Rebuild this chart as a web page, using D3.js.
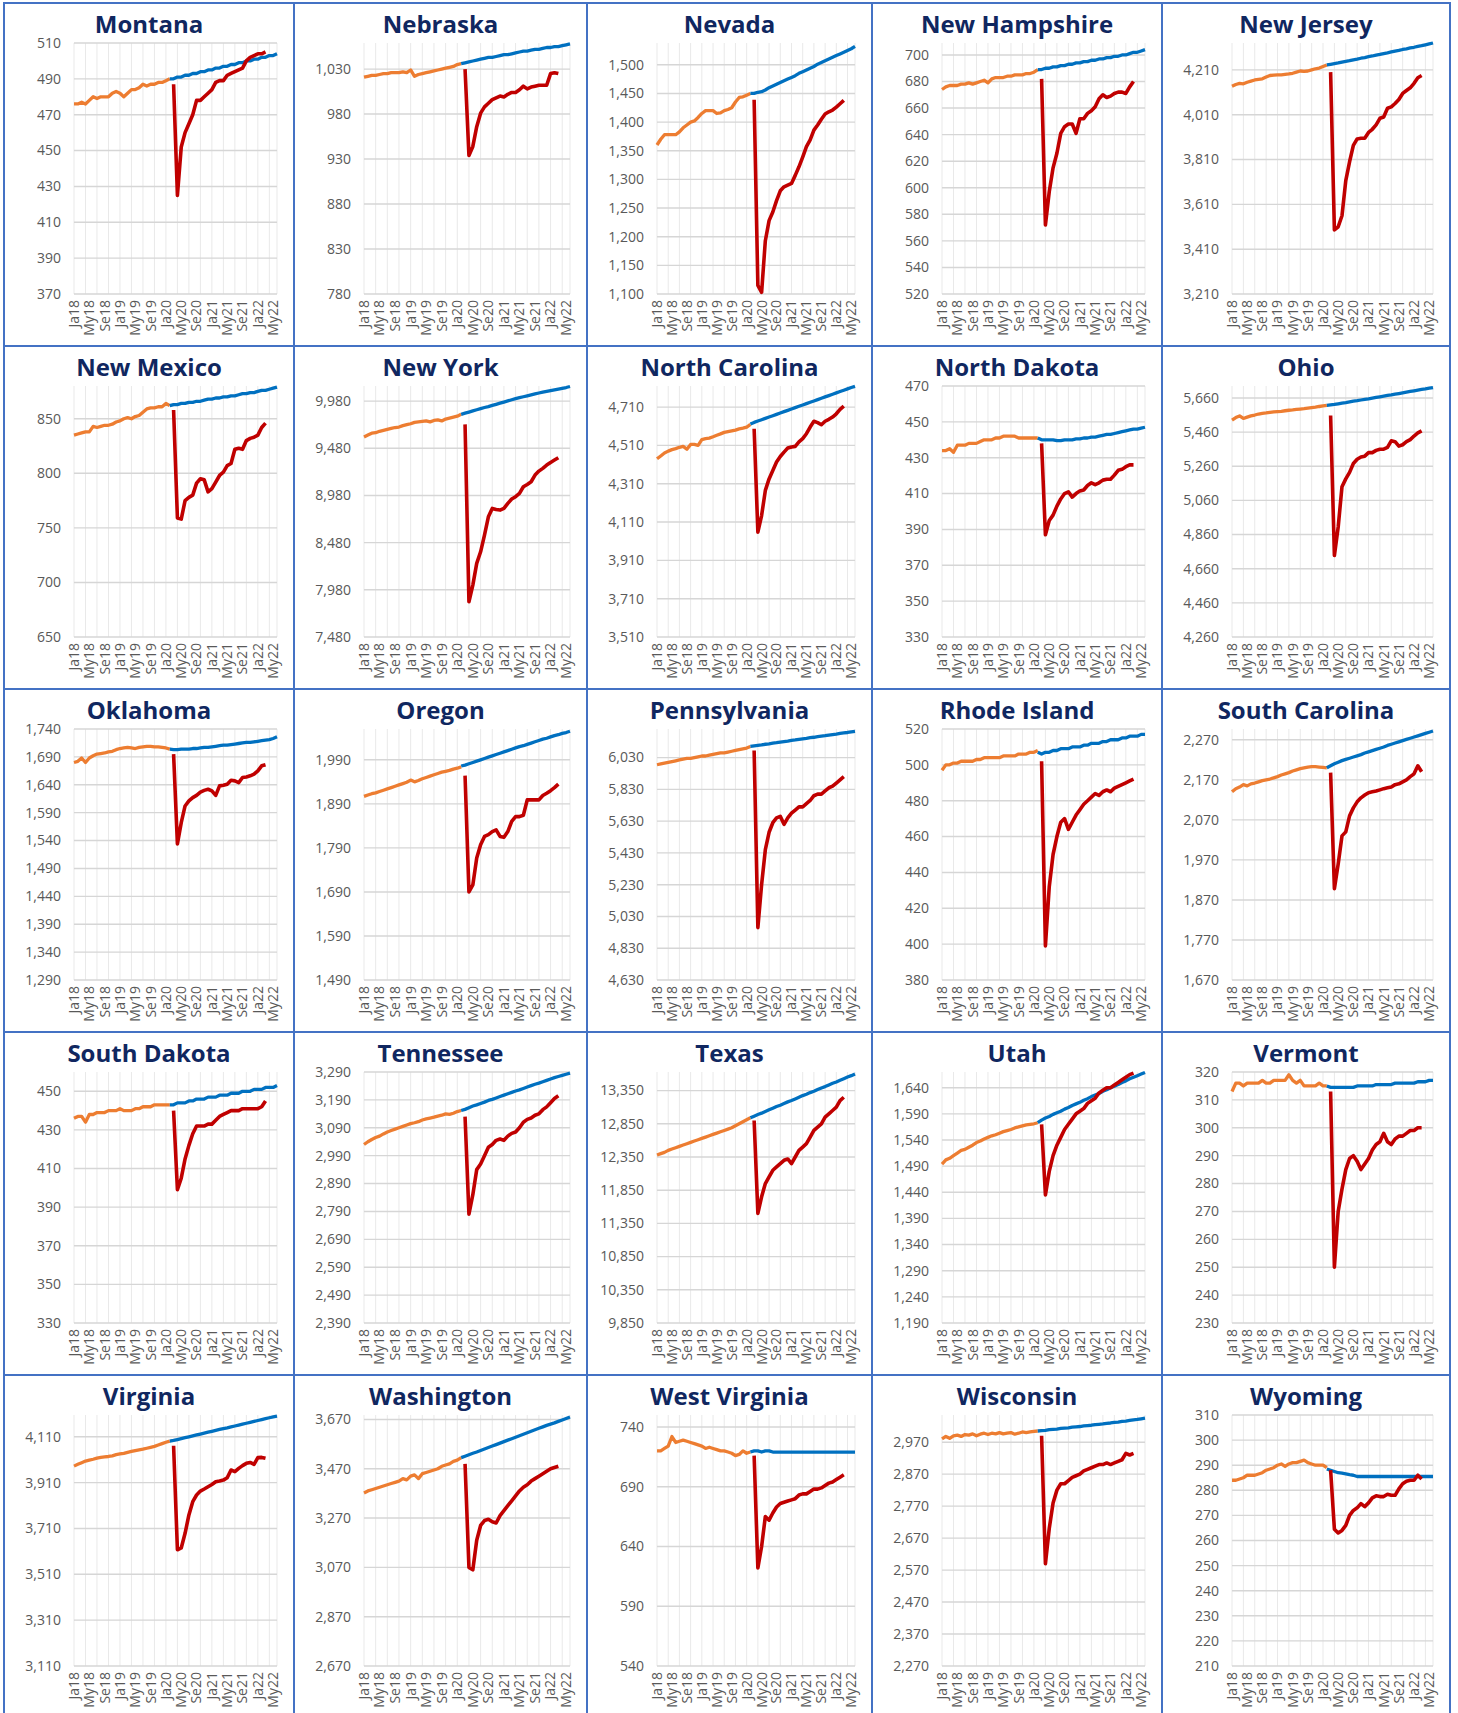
<html>
<head>
<script src="https://d3js.org/d3.v7.min.js"></script>
<style>
  body { margin: 0; background: #fff; }
</style>
</head>
<body>
<svg id="grid" width="1458" height="1713"></svg>
<script>

// state order, left to right, top to bottom
const states = ["Montana", "Nebraska", "Nevada", "New Hampshire", "New Jersey",
  "New Mexico", "New York", "North Carolina", "North Dakota", "Ohio",
  "Oklahoma", "Oregon", "Pennsylvania", "Rhode Island", "South Carolina",
  "South Dakota", "Tennessee", "Texas", "Utah", "Vermont",
  "Virginia", "Washington", "West Virginia", "Wisconsin", "Wyoming"];

// y axis per state
const yMin = [370, 780, 1100, 520, 3210, 650, 7480, 3510, 330, 4260,
  1290, 1490, 4630, 380, 1670, 330, 2390, 9850, 1190, 230,
  3110, 2670, 540, 2270, 210];
const yMax = [510, 1059, 1538, 709, 4330, 880, 10140, 4820, 470, 5730,
  1740, 2060, 6210, 520, 2297, 460, 3290, 13630, 1670, 320,
  4205, 3688, 750, 3055, 310];
const yStep = [20, 50, 50, 20, 200, 50, 500, 200, 20, 200,
  50, 100, 200, 20, 100, 20, 100, 500, 50, 10,
  200, 200, 50, 100, 10];

// x axis: months Jan 2018 (0) .. Jun 2022 (53), a label every 4 months
const tickLabels = ["Ja18", "My18", "Se18", "Ja19", "My19", "Se19", "Ja20",
  "My20", "Se20", "Ja21", "My21", "Se21", "Ja22", "My22"];
const lastMonth = 53;
const preStart = 0, trendStart = 25, postStart = 26;

// actual, Jan 2018 - Feb 2020 (orange)
const preCovid = [
  [476,476,477,476,478,480,479,480,480,480,482,483,482,480,482,484,484,485,487,486,487,487,488,488,489,490],
  [1021,1022,1023,1023,1024,1025,1025,1026,1026,1026,1027,1026,1029,1022,1024,1025,1026,1027,1028,1029,1030,1031,1032,1033,1035,1036],
  [1360,1370,1378,1378,1378,1378,1383,1390,1395,1400,1402,1408,1415,1420,1420,1420,1415,1416,1420,1422,1425,1435,1443,1444,1447,1450],
  [674,676,677,677,677,678,678,679,678,679,680,681,679,682,683,683,683,684,684,685,685,685,686,686,687,689],
  [4137,4145,4150,4148,4155,4160,4165,4168,4170,4178,4185,4187,4188,4188,4190,4192,4195,4200,4205,4203,4205,4210,4215,4218,4225,4232],
  [835,836,837,838,838,843,842,843,844,844,845,847,848,850,851,850,852,853,856,859,860,860,861,861,864,862],
  [9600,9620,9640,9645,9660,9670,9680,9690,9700,9705,9720,9730,9740,9755,9760,9765,9770,9760,9775,9780,9770,9790,9800,9810,9820,9840],
  [4440,4455,4470,4480,4488,4493,4500,4505,4490,4515,4515,4510,4540,4545,4548,4555,4563,4570,4578,4582,4586,4590,4596,4600,4605,4620],
  [434,434,435,433,437,437,437,438,438,438,439,440,440,440,441,441,442,442,442,442,441,441,441,441,441,441],
  [5530,5545,5555,5540,5548,5555,5560,5566,5570,5572,5575,5578,5580,5582,5585,5588,5590,5593,5595,5597,5600,5603,5606,5610,5613,5616],
  [1680,1682,1688,1680,1688,1692,1695,1696,1697,1699,1700,1703,1705,1706,1707,1706,1705,1707,1708,1709,1709,1708,1708,1707,1706,1704],
  [1907,1910,1913,1915,1918,1921,1924,1927,1930,1933,1936,1939,1944,1940,1943,1947,1950,1953,1956,1959,1962,1964,1966,1969,1971,1974],
  [5985,5990,5995,6000,6005,6010,6015,6020,6025,6025,6030,6035,6040,6040,6045,6050,6055,6060,6060,6065,6070,6075,6080,6085,6090,6100],
  [497,500,500,501,501,502,502,502,502,503,503,504,504,504,504,504,505,505,505,505,506,506,506,507,507,508],
  [2140,2148,2152,2158,2155,2160,2162,2165,2168,2170,2172,2175,2178,2182,2185,2188,2192,2195,2198,2200,2202,2203,2203,2202,2201,2200],
  [436,437,437,434,438,438,439,439,439,440,440,440,441,440,440,440,441,441,442,442,442,443,443,443,443,443],
  [3030,3040,3048,3055,3060,3068,3075,3080,3085,3090,3095,3100,3105,3108,3112,3118,3122,3125,3128,3132,3135,3140,3138,3142,3148,3152],
  [12380,12400,12420,12450,12470,12490,12510,12530,12550,12570,12590,12610,12630,12650,12670,12690,12710,12730,12750,12770,12790,12820,12850,12880,12910,12940],
  [1494,1502,1505,1510,1515,1520,1522,1526,1530,1535,1538,1542,1545,1548,1550,1553,1556,1558,1560,1563,1565,1567,1569,1570,1571,1573],
  [313,316,316,315,316,316,316,316,317,316,316,317,317,317,317,319,317,316,317,315,315,315,315,316,315,315],
  [3982,3990,3997,4004,4008,4012,4017,4020,4022,4024,4027,4032,4035,4038,4042,4046,4050,4053,4056,4060,4064,4068,4074,4080,4086,4091],
  [3372,3380,3385,3390,3395,3400,3405,3410,3415,3420,3430,3425,3440,3445,3430,3450,3455,3460,3465,3470,3480,3485,3490,3500,3505,3515],
  [720,720,722,724,732,727,728,729,728,727,726,725,724,722,723,722,721,720,720,719,718,716,717,720,718,719],
  [2980,2988,2982,2990,2992,2988,2994,2992,2996,2990,2995,2998,2994,2998,2996,3000,2996,2998,3000,2995,2998,3002,3000,3002,3004,3005],
  [284,284,284.5,285,286,286,286,286.5,287,288,288.5,289,290,290.5,289.5,290.5,291,291,291.5,292,291,290.5,290,290,290,289]
];

// pre-covid trend, Feb 2020 - Jun 2022 (blue)
const trendLine = [
  [490,490,491,491,492,492,493,493,494,494,495,495,496,496,497,497,498,498,499,499,500,500,501,501,502,502,503,503,504],
  [1036,1037,1038,1039,1040,1041,1042,1043,1043,1044,1045,1046,1046,1047,1048,1049,1050,1050,1051,1052,1052,1053,1054,1054,1055,1055,1056,1057,1058],
  [1450,1450,1452,1453,1456,1460,1463,1466,1469,1472,1475,1478,1481,1485,1488,1491,1494,1497,1501,1504,1507,1510,1513,1516,1519,1522,1525,1528,1532],
  [689,689,690,690,691,691,692,692,693,693,694,694,695,695,696,696,697,697,698,698,699,699,700,700,701,702,702,703,704],
  [4232,4235,4238,4241,4245,4248,4251,4255,4258,4262,4265,4269,4272,4276,4279,4283,4286,4290,4294,4297,4301,4304,4308,4311,4315,4318,4322,4326,4330],
  [862,863,863,864,864,865,865,866,866,867,868,868,869,869,870,870,871,871,872,873,873,874,874,875,876,876,877,878,879],
  [9840,9852,9864,9876,9888,9900,9912,9922,9934,9946,9958,9970,9982,9994,10006,10016,10026,10036,10046,10056,10066,10076,10084,10092,10100,10108,10116,10124,10135],
  [4622,4630,4637,4644,4651,4658,4665,4672,4679,4686,4693,4700,4707,4714,4721,4728,4735,4742,4749,4756,4763,4770,4777,4784,4791,4798,4805,4812,4818],
  [441,440,440,440,440,439.5,439.5,440,440,440,440.5,440.5,441,441,441.5,441.5,442,442.5,443,443,443.5,444,444.5,445,445.5,446,446,446.5,447],
  [5616,5619,5622,5626,5630,5633,5637,5641,5644,5648,5652,5655,5659,5663,5667,5671,5675,5678,5682,5686,5690,5694,5698,5702,5706,5710,5713,5717,5721],
  [1704,1703,1703,1704,1704,1704,1705,1705,1706,1707,1707,1708,1709,1710,1711,1711,1712,1713,1714,1715,1716,1716,1717,1718,1719,1720,1721,1723,1726],
  [1976,1978,1981,1984,1987,1990,1993,1996,1999,2002,2005,2008,2011,2014,2017,2020,2022,2025,2028,2031,2034,2037,2039,2042,2045,2047,2050,2052,2055],
  [6100,6104,6107,6110,6114,6117,6121,6124,6128,6131,6134,6138,6141,6145,6148,6151,6155,6158,6162,6165,6168,6172,6175,6178,6182,6185,6188,6192,6195],
  [507,506,507,507,508,508,509,509,509,510,510,510,511,511,512,512,512,513,513,514,514,514,515,515,516,516,516,517,517],
  [2200,2205,2210,2214,2218,2221,2224,2227,2230,2233,2237,2240,2243,2246,2249,2252,2256,2259,2262,2265,2268,2271,2274,2277,2280,2283,2286,2289,2292],
  [443,443,444,444,444,445,445,446,446,446,447,447,447,448,448,448,449,449,449,450,450,450,451,451,451,452,452,452,453],
  [3152,3156,3162,3168,3172,3177,3182,3188,3192,3197,3202,3207,3212,3217,3222,3226,3231,3236,3241,3246,3250,3255,3260,3265,3270,3274,3278,3282,3286],
  [12940,12965,12990,13010,13035,13060,13085,13110,13130,13155,13180,13200,13225,13250,13275,13295,13320,13340,13365,13390,13410,13435,13460,13480,13505,13530,13555,13575,13600],
  [1573,1578,1582,1585,1589,1592,1595,1599,1602,1606,1609,1612,1616,1619,1623,1626,1629,1633,1636,1640,1643,1646,1650,1653,1657,1660,1663,1666,1669],
  [315,314.5,314.5,314.5,314.5,314.5,314.5,314.5,315,315,315,315,315,315.5,315.5,315.5,315.5,315.5,316,316,316,316,316,316,316.5,316.5,316.5,317,317],
  [4091,4094,4098,4102,4106,4110,4114,4118,4122,4126,4130,4134,4138,4142,4146,4149,4153,4157,4161,4165,4169,4173,4177,4181,4185,4189,4193,4197,4200],
  [3515,3521,3527,3533,3538,3544,3550,3556,3562,3568,3574,3580,3586,3592,3598,3604,3610,3616,3622,3628,3634,3640,3646,3651,3656,3662,3668,3674,3680],
  [719,720,720,719,720,720,719,719,719,719,719,719,719,719,719,719,719,719,719,719,719,719,719,719,719,719,719,719,719],
  [3005,3006,3007,3009,3010,3011,3013,3014,3015,3017,3018,3019,3021,3022,3023,3025,3026,3027,3029,3030,3032,3033,3035,3036,3038,3040,3041,3043,3045],
  [288.5,288,287.5,287,286.8,286.5,286.2,286,285.5,285.5,285.5,285.5,285.5,285.5,285.5,285.5,285.5,285.5,285.5,285.5,285.5,285.5,285.5,285.5,285.5,285.5,285.5,285.5,285.5]
];

// actual, Mar 2020 - Mar 2022 (red)
const postCovid = [
  [487,425,452,460,465,470,478,478,480,482,484,488,489,489,492,493,494,495,496,500,502,503,504,504,505],
  [1030,934,944,966,981,988,992,996,998,1000,999,1002,1004,1004,1007,1011,1008,1010,1011,1012,1012,1012,1025,1026,1025],
  [1439,1115,1103,1193,1228,1243,1263,1280,1287,1290,1293,1307,1322,1339,1357,1369,1386,1395,1405,1414,1418,1421,1426,1432,1438],
  [682,572,597,615,626,641,646,648,648,641,652,652,656,658,661,667,670,668,669,671,672,672,671,676,680],
  [4200,3496,3510,3559,3716,3800,3873,3902,3905,3905,3931,3945,3965,3994,4000,4039,4045,4060,4078,4105,4118,4130,4150,4175,4185],
  [858,759,758,775,778,780,791,795,794,783,786,792,798,801,807,809,822,823,822,830,832,833,835,842,846],
  [9733,7853,8030,8260,8383,8560,8754,8843,8832,8825,8843,8896,8942,8967,9002,9072,9097,9125,9196,9238,9267,9302,9330,9355,9380],
  [4597,4057,4144,4275,4335,4379,4423,4452,4475,4496,4502,4505,4528,4545,4571,4606,4636,4629,4618,4636,4646,4658,4675,4698,4715],
  [438,387,395,398,403,407,410,411,408,410,411.5,412,414.5,416,415,416,417.5,418,418,420.3,423,423.5,425,426,426],
  [5557,4737,4904,5140,5186,5224,5276,5301,5314,5319,5340,5340,5353,5360,5360,5370,5409,5404,5378,5386,5404,5416,5437,5455,5467],
  [1695,1534,1572,1602,1611,1617,1621,1627,1630,1632,1629,1621,1638,1639,1641,1648,1647,1644,1653,1654,1656,1659,1665,1674,1676],
  [1954,1690,1706,1767,1797,1816,1820,1827,1831,1816,1814,1827,1850,1861,1861,1864,1899,1899,1899,1899,1909,1914,1920,1927,1935],
  [6075,4960,5230,5450,5560,5620,5650,5660,5610,5650,5680,5700,5720,5720,5740,5760,5790,5800,5800,5820,5840,5850,5870,5890,5910],
  [502,399,432,450,460,468,470,464,468,472,475,478,480,482,484,483,485,486,485,487,488,489,490,491,492],
  [2188,1898,1960,2030,2040,2080,2100,2115,2125,2132,2138,2140,2142,2145,2148,2150,2152,2158,2160,2165,2170,2178,2185,2205,2190],
  [440,399,405,415,422,428,432,432,432,433,433,435,437,438,439,440,440,440,441,441,441,441,441,442,445],
  [3130,2780,2850,2940,2960,2990,3020,3030,3045,3050,3045,3060,3070,3075,3090,3110,3120,3125,3135,3140,3155,3165,3180,3195,3205],
  [12900,11500,11750,11950,12050,12150,12200,12250,12300,12320,12250,12350,12450,12500,12550,12650,12750,12800,12850,12950,13000,13050,13100,13200,13250],
  [1570,1435,1480,1510,1530,1545,1560,1570,1580,1590,1595,1600,1610,1615,1620,1630,1635,1640,1640,1645,1650,1655,1660,1665,1668],
  [313,250,270,278,285,289,290,288,285,287,289,292,294,295,298,295,294,296,297,297,298,299,299,300,300],
  [4071,3617,3625,3689,3769,3827,3856,3873,3882,3892,3902,3914,3917,3921,3931,3965,3958,3972,3984,3994,3998,3990,4019,4020,4016],
  [3490,3070,3060,3180,3240,3260,3265,3255,3250,3280,3300,3320,3340,3360,3380,3395,3405,3420,3430,3440,3450,3460,3470,3475,3480],
  [716,622,640,665,662,668,673,676,677,678,679,680,683,684,684,686,688,688,689,691,693,694,696,698,700],
  [2990,2590,2700,2780,2820,2840,2840,2850,2860,2865,2870,2880,2885,2890,2895,2900,2900,2905,2900,2905,2910,2915,2935,2930,2935],
  [288,264.5,263,264,266,270,272,273,274.7,273.5,275,277,277.8,277.5,277.5,278.4,278,278,280.6,282.6,283.6,284,284,286,284.5]
];

const svg = d3.select("#grid");
const colEdges = [4, 294, 587, 872, 1162, 1450];
const rowEdges = [3, 346, 689, 1032, 1375, 1718];
const pad = { left: 70, right: 17, top: 40, bottom: 291 };
const grey = "#595959";
const font = "'Open Sans', 'Liberation Sans', sans-serif";

states.forEach(function (name, i) {
  const c = i % 5, r = Math.floor(i / 5);
  const x0 = colEdges[c], x1 = colEdges[c + 1];
  const y0 = rowEdges[r], y1 = rowEdges[r + 1];
  const g = svg.append("g");

  const x = d3.scaleLinear().domain([0, lastMonth]).range([x0 + pad.left, x1 - pad.right]);
  const y = d3.scaleLinear().domain([yMin[i], yMax[i]]).range([y0 + pad.bottom, y0 + pad.top]);

  // vertical gridlines every 3 months
  const vlines = d3.range(0, lastMonth, 3).concat([lastMonth]);
  g.selectAll(".vg").data(vlines).join("line")
    .attr("x1", d => x(d)).attr("x2", d => x(d))
    .attr("y1", y0 + pad.top).attr("y2", y0 + pad.bottom)
    .attr("stroke", "#e9e9e9").attr("stroke-width", 1);

  const yticks = d3.range(yMin[i], yMax[i] + 0.001, yStep[i]);
  g.selectAll(".hg").data(yticks).join("line")
    .attr("x1", x(0)).attr("x2", x(lastMonth))
    .attr("y1", d => y(d)).attr("y2", d => y(d))
    .attr("stroke", "#d6d6d6").attr("stroke-width", 1.4);

  g.selectAll(".yl").data(yticks).join("text")
    .attr("x", x(0) - 13).attr("y", d => y(d)).attr("dy", "0.35em")
    .attr("text-anchor", "end")
    .style("font-family", font).style("font-size", "14px").attr("fill", grey)
    .text(d => d >= 1000 ? d3.format(",")(d) : d);

  g.selectAll(".xl").data(tickLabels).join("text")
    .attr("transform", (d, k) => "translate(" + x(k * 4) + "," + (y0 + pad.bottom + 6) + ") rotate(-90)")
    .attr("dy", "0.35em")
    .attr("text-anchor", "end")
    .style("font-family", font).style("font-size", "14px").attr("fill", grey)
    .text(d => d);

  const line = start => d3.line()
    .x((d, k) => x(start + k))
    .y(d => y(d));

  g.append("path").datum(preCovid[i])
    .attr("d", line(preStart)).attr("fill", "none")
    .attr("stroke", "#ED7D31").attr("stroke-width", 3.3).attr("stroke-linejoin", "round");

  g.append("path").datum(trendLine[i])
    .attr("d", line(trendStart)).attr("fill", "none")
    .attr("stroke", "#0070C0").attr("stroke-width", 3.3).attr("stroke-linejoin", "round");

  g.append("path").datum(postCovid[i])
    .attr("d", line(postStart)).attr("fill", "none")
    .attr("stroke", "#C00000").attr("stroke-width", 3.6).attr("stroke-linejoin", "round");

  g.append("text")
    .attr("x", (x0 + x1) / 2).attr("y", y0 + 30)
    .attr("text-anchor", "middle")
    .style("font-family", font).style("font-size", "24px").style("font-weight", "bold")
    .attr("fill", "#102760")
    .text(name);

  g.append("rect")
    .attr("x", x0).attr("y", y0).attr("width", x1 - x0).attr("height", y1 - y0)
    .attr("fill", "none").attr("stroke", "#4472C4").attr("stroke-width", 2);
});

</script>
</body>
</html>
